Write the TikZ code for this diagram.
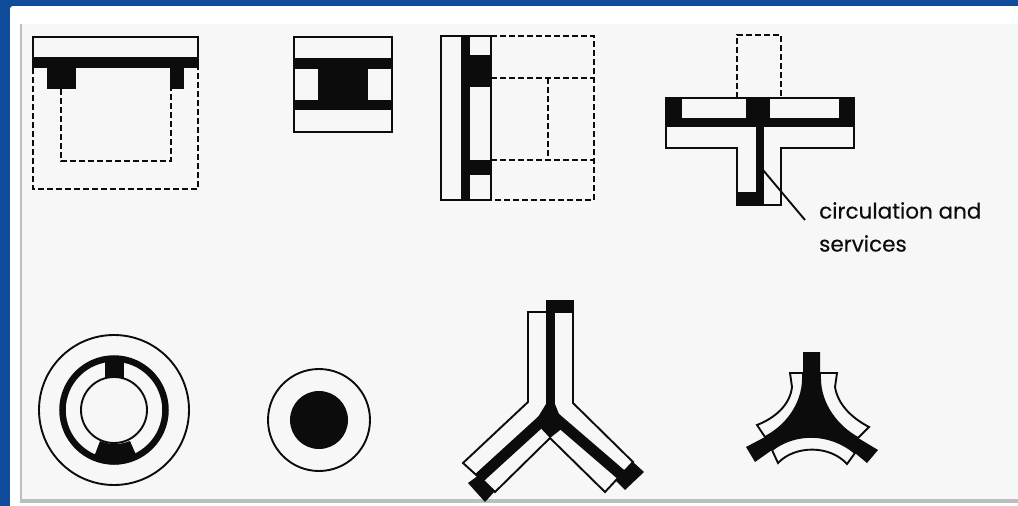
\documentclass[tikz,border=0pt]{standalone}
\usepackage{fontspec}
\setmainfont{Poppins}[FakeBold=0.25]
\usetikzlibrary{calc}
\definecolor{azul}{RGB}{15,76,156}
\definecolor{panel}{RGB}{247,247,247}
\definecolor{borde}{RGB}{190,190,190}
\definecolor{tinta}{RGB}{12,12,12}

\begin{document}
\begin{tikzpicture}[x=1pt,y=-1pt,
wall/.style={draw=tinta,line width=2.4pt,fill=panel,line join=miter},
thin wall/.style={draw=tinta,line width=1.9pt,fill=panel,line join=miter},
dash wall/.style={draw=tinta,line width=2.4pt,dash pattern=on 6pt off 3pt},
core/.style={fill=tinta,draw=none},
spine/.style={draw=tinta,line width=11pt},
lbl/.style={font=\fontsize{21.5}{33}\selectfont,text=tinta,align=left,inner sep=0pt,anchor=north west}
]
\useasboundingbox (0,0) rectangle (1018,506);
% frame
\fill[azul] (0,0) rectangle (1018,506);
\fill[white,rounded corners=3pt] (10,6) -- (1030,6) -- (1030,520) -- (10,520) -- cycle;
\fill[panel] (20,24) rectangle (1018,500);
\fill[borde] (20,24) rectangle (22,500);
\fill[borde] (20,499) rectangle (1018,503);
% plan with front bar
\draw[wall] (33,37) rectangle (198,58);
\draw[dash wall] (33,68) -- (33,189) -- (198,189) -- (198,68);
\draw[dash wall] (61,89) -- (61,161) -- (171,161) -- (171,89);
\fill[core] (32,58) rectangle (199,68);
\fill[core] (47,68) rectangle (76,89);
\fill[core] (170,68) rectangle (184,89);
% plan with central block
\draw[wall] (294,37) rectangle (392,132);
\fill[core] (294,58) rectangle (392,69);
\fill[core] (318,69) rectangle (368,100);
\fill[core] (294,100) rectangle (392,110);
% side slab
\draw[dash wall] (491,36) -- (594,36) -- (594,200) -- (491,200);
\draw[dash wall] (491,78) -- (594,78);
\draw[dash wall] (491,160) -- (594,160);
\draw[dash wall] (548,78) -- (548,160);
\draw[wall] (441,36) rectangle (491,200);
\fill[core] (461,36) rectangle (470,200);
\fill[core] (470,55) rectangle (491,87);
\fill[core] (470,160) rectangle (491,175);
% cross plan
\draw[dash wall] (737,98) -- (737,35) -- (781,35) -- (781,98);
\draw[wall] (666,98) -- (854,98) -- (854,148) -- (781,148) -- (781,205) -- (737,205) -- (737,148) -- (666,148) -- cycle;
\fill[core] (666,98) rectangle (682,127);
\fill[core] (839,98) rectangle (855,127);
\fill[core] (666,118) rectangle (855,127);
\fill[core] (746,98) rectangle (770,118);
\fill[core] (756,127) rectangle (764,205);
\fill[core] (737,192) rectangle (756,206);
\node[lbl] (note) at (819,202) {circulation and\\services};
\coordinate (stem) at (763,170);
\coordinate (tip) at (805,220);
\draw[draw=tinta,line width=1.9pt] (stem) -- (tip);
% ring plan
\draw[thin wall] (114,410) circle (75);
\draw[wall,line width=6.5pt] (114,410) circle (51.5);
\draw[thin wall] (114,410) circle (33);
\fill[core] (105,358) -- (124,358) -- (124,378) -- (105,378) -- cycle;
\fill[core] (100,441) .. controls (110,445) and (120,445) .. (130,441) -- (137,457) .. controls (124,467) and (104,467) .. (94,457) -- cycle;
% round core
\draw[thin wall] (319,420) circle (51);
\fill[core] (319,420) circle (29);
% Y plan
\draw[thin wall] (546,312) -- (528,312) -- (528,402) -- (463,463) -- (495,492) -- (550,438) -- (605,492) -- (633,462) -- (573,403) -- (573,312) -- cycle;
\fill[core] (546,300) rectangle (574,313);
\fill[core] (546,313) rectangle (555,410);
\draw[spine] (547,416) -- (479,478);
\draw[spine] (553,416) -- (625,478);
\fill[core] (546,404) -- (555,404) -- (564,427) -- (550,438) -- (535,422) -- cycle;
\fill[core] (468,483) -- (485,502) -- (495,491) -- (479,475) -- cycle;
\fill[core] (633,462) -- (644,472) -- (625,490) -- (615,480) -- cycle;
% curved star
\fill[core] (803,352) -- (820,352) -- (820,378) .. controls (820,405) and (838,427) .. (858,438) -- (878,450) -- (867,463) -- (855,453) .. controls (830,432) and (795,432) .. (772,450) -- (755,462) -- (746,447) -- (765,437) .. controls (785,427) and (803,405) .. (803,378) -- cycle;
\draw[thin wall] (803,373) -- (790,373) -- (792,387) .. controls (790,405) and (775,418) .. (757,425) -- (765,437) .. controls (785,427) and (803,405) .. (803,378) -- cycle;
\draw[thin wall] (820,373) -- (837,373) -- (835,387) .. controls (838,405) and (852,418) .. (869,427) -- (858,438) .. controls (838,427) and (820,405) .. (820,378) -- cycle;
\draw[thin wall] (772,450) .. controls (795,432) and (830,432) .. (855,453) -- (847,464) .. controls (830,445) and (795,445) .. (778,463) -- cycle;
\end{tikzpicture}
\end{document}
